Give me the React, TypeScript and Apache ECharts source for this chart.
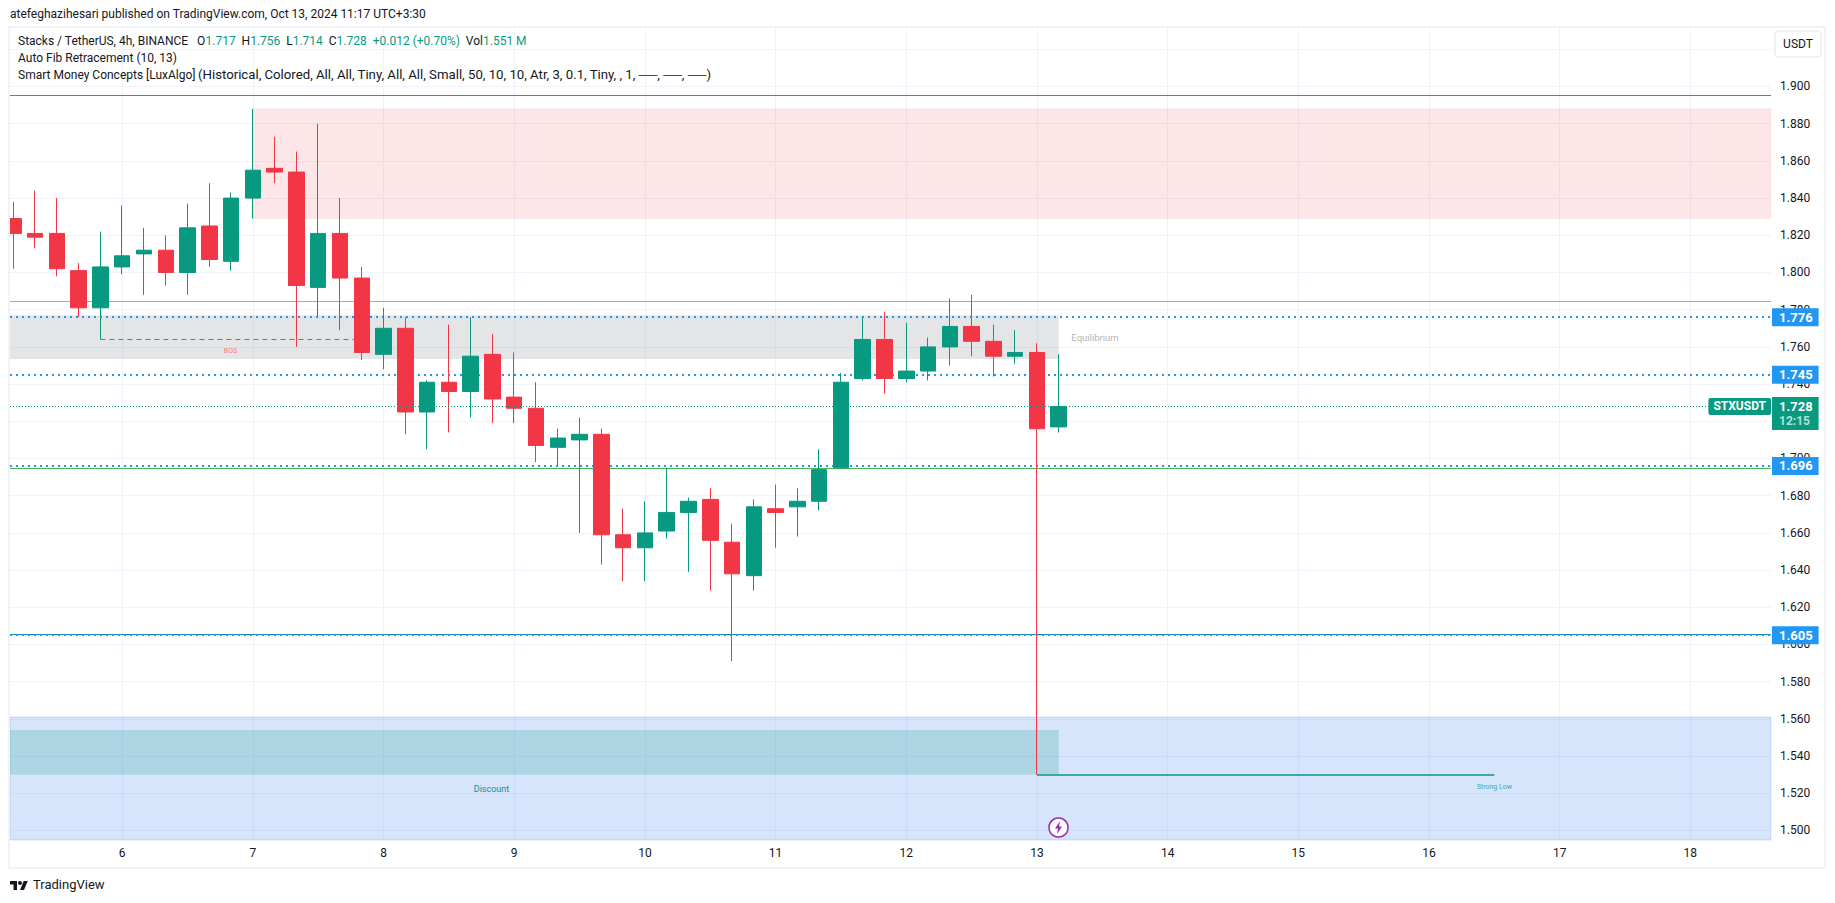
import React, { useEffect, useRef } from "react";
import * as echarts from "echarts";

const headerText = "atefeghazihesari published on TradingView.com, Oct 13, 2024 11:17 UTC+3:30";
const fibLegend = "Auto Fib Retracement (10, 13)";
const smcLegendName = "Smart Money Concepts [LuxAlgo]";
const smcLegendArgs = "(Historical, Colored, All, All, Tiny, All, All, Small, 50, 10, 10, Atr, 3, 0.1, Tiny, , 1, ──, ──, ──)";

const firstCandleDay = 5 + 1 / 6;
const candleStepDays = 1 / 6;
const opens = [1.829,1.821,1.821,1.801,1.781,1.803,1.810,1.812,1.800,1.825,1.806,1.840,1.856,1.854,1.792,1.821,1.797,1.756,1.770,1.725,1.741,1.736,1.756,1.733,1.727,1.706,1.710,1.713,1.659,1.652,1.661,1.671,1.678,1.655,1.637,1.673,1.674,1.677,1.695,1.743,1.764,1.743,1.747,1.760,1.771,1.763,1.755,1.757,1.717];
const closes = [1.821,1.819,1.802,1.781,1.803,1.809,1.812,1.800,1.824,1.807,1.840,1.855,1.854,1.793,1.821,1.797,1.757,1.770,1.725,1.741,1.736,1.755,1.732,1.727,1.707,1.711,1.713,1.659,1.652,1.660,1.671,1.677,1.656,1.638,1.674,1.671,1.677,1.694,1.741,1.764,1.743,1.747,1.760,1.771,1.763,1.755,1.757,1.716,1.728];
const lows = [1.802,1.813,1.798,1.776,1.764,1.799,1.788,1.793,1.788,1.803,1.801,1.829,1.848,1.760,1.776,1.769,1.753,1.748,1.713,1.705,1.714,1.722,1.719,1.719,1.698,1.696,1.660,1.643,1.634,1.634,1.657,1.639,1.629,1.591,1.629,1.652,1.658,1.672,1.695,1.742,1.735,1.741,1.742,1.750,1.755,1.744,1.751,1.530,1.714];
const highs = [1.838,1.844,1.840,1.805,1.822,1.836,1.824,1.820,1.837,1.848,1.843,1.888,1.873,1.865,1.880,1.840,1.803,1.781,1.776,1.742,1.772,1.776,1.767,1.757,1.741,1.716,1.722,1.716,1.673,1.677,1.695,1.679,1.684,1.665,1.678,1.686,1.684,1.705,1.746,1.776,1.779,1.773,1.765,1.786,1.788,1.772,1.769,1.762,1.756];

const dayTicks = [6, 7, 8, 9, 10, 11, 12, 13, 14, 15, 16, 17, 18];
const priceLabels = [1.5, 1.52, 1.54, 1.56, 1.58, 1.6, 1.62, 1.64, 1.66, 1.68, 1.7, 1.74, 1.76, 1.78, 1.8, 1.82, 1.84, 1.86, 1.88, 1.9];
const priceGridLines = [...priceLabels, 1.72, 1.92];

const xMin = 5.1414;
const xMax = 18.617;
const yMin = 1.49489;
const yMax = 1.93145;

const dottedLevels = [1.776, 1.745, 1.696, 1.605];
const solidLevels = [
  { value: 1.8954, color: "#e8493f" },
  { value: 1.7844, color: "#86c28c" },
  { value: 1.6948, color: "#4caf50" },
  { value: 1.6057, color: "#0e8ca8" },
];
const lastPrice = 1.728;
const countdown = "12:15";
const ticker = "STXUSDT";

const GREEN = "#089981";
const RED = "#F23645";
const BLUE = "#2196F3";
const FONT = "Roboto";

echarts.graphic.registerShape(
  "tvlogo",
  echarts.graphic.extendPath("M14 22H7V11H0V4h14zM28 22h-8l7.5-18h8zM24 8a4 4 0 1 1-8 0 4 4 0 0 1 8 0z", {}) as any
);

export default function App() {
  const ref = useRef<HTMLDivElement>(null);
  useEffect(() => {
    const chart = echarts.init(ref.current!, null, { renderer: "svg" });
    const candles = opens.map((o, i) => [firstCandleDay + i * candleStepDays, o, closes[i], lows[i], highs[i]]);
    const badge = (text: string) => ({
      show: true,
      position: "end",
      distance: 1,
      formatter: text,
      backgroundColor: BLUE,
      color: "#fff",
      fontFamily: FONT,
      fontWeight: "bold",
      fontSize: 13,
      padding: [3, 6, 2, 7],
    });
    chart.setOption({
      animation: false,
      backgroundColor: "#fff",
      title: {
        text: headerText,
        left: 10,
        top: 8,
        padding: 0,
        textStyle: { fontFamily: FONT, fontSize: 12, fontWeight: "normal", color: "#131722" },
      },
      grid: { left: 10, right: 64, top: 28, bottom: 63 },
      xAxis: {
        type: "value",
        min: xMin,
        max: xMax,
        axisLine: { show: false },
        axisTick: { show: false, customValues: dayTicks },
        axisLabel: {
          customValues: dayTicks,
          formatter: (v: number) => String(v),
          color: "#131722",
          fontFamily: FONT,
          fontSize: 12,
          margin: 7,
        },
        splitLine: { show: true, lineStyle: { color: "#f0f3fa", width: 1 } },
      },
      yAxis: {
        type: "value",
        position: "right",
        min: yMin,
        max: yMax,
        axisLine: { show: false },
        axisTick: { show: false, customValues: priceGridLines },
        axisLabel: {
          customValues: priceLabels,
          formatter: (v: number) => v.toFixed(3),
          color: "#131722",
          fontFamily: FONT,
          fontSize: 12,
          margin: 9,
        },
        splitLine: { show: true, lineStyle: { color: "#f0f3fa", width: 1 } },
      },
      series: [
        {
          name: "Levels",
          type: "line",
          data: [],
          z: 1,
          silent: true,
          markLine: {
            z: 1,
            silent: true,
            symbol: "none",
            animation: false,
            precision: 5,
            label: { show: false },
            data: [
              ...solidLevels.map((l) => ({
                yAxis: l.value,
                lineStyle: { color: l.color, width: 1, type: "solid" },
                label: { show: false },
              })),
              [
                { xAxis: 5 + 4 / 6 + 1 / 6, yAxis: 1.764, lineStyle: { color: "#c9505c", width: 1, type: [5, 4] }, label: { show: false } },
                { xAxis: 5 + 17 / 6, yAxis: 1.764 },
              ],
              [
                { xAxis: 13, yAxis: 1.53, lineStyle: { color: GREEN, width: 1.5, type: "solid" }, label: { show: false } },
                { xAxis: 16.5, yAxis: 1.53 },
              ],
              ...dottedLevels.map((v) => ({
                yAxis: v,
                lineStyle: { color: BLUE, width: 2, type: [2, 4] },
                label: badge(v.toFixed(3)),
              })),
            ],
          },
          markPoint: {
            z: 6,
            silent: true,
            symbol: "circle",
            symbolSize: 0,
            data: [
              { coord: [6.829, 1.758], label: { show: true, position: "inside", formatter: "BOS", color: "#f77c80", fontSize: 7, fontFamily: FONT } },
              { coord: [8.826, 1.5223], label: { show: true, position: "inside", formatter: "Discount", color: GREEN, fontSize: 9, fontFamily: FONT } },
              { coord: [13.444, 1.765], label: { show: true, position: "inside", formatter: "Equilibrium", color: "#b2b5be", fontSize: 9.5, fontFamily: FONT } },
              { coord: [16.5, 1.5236], label: { show: true, position: "inside", formatter: "Strong Low", color: "#3fae9c", fontSize: 7, fontFamily: FONT } },
            ],
          },
        },
        {
          name: "STXUSDT",
          type: "candlestick",
          barWidth: 16,
          z: 2,
          data: candles,
          itemStyle: { color: GREEN, color0: RED, borderColor: GREEN, borderColor0: RED, borderWidth: 1 },
          markArea: {
            z: 1,
            silent: true,
            precision: 5,
            data: [
              [
                { xAxis: 7, yAxis: 1.888, itemStyle: { color: "rgba(242,54,69,0.125)", borderColor: "rgba(242,54,69,0.06)", borderWidth: 1 } },
                { xAxis: xMax, yAxis: 1.829 },
              ],
              [
                { xAxis: xMin, yAxis: 1.777, itemStyle: { color: "rgba(120,123,134,0.2)" } },
                { xAxis: firstCandleDay + 48 * candleStepDays, yAxis: 1.7535 },
              ],
              [
                { xAxis: xMin, yAxis: 1.561, itemStyle: { color: "rgba(50,120,240,0.2)", borderColor: "rgba(50,120,240,0.2)", borderWidth: 1 } },
                { xAxis: xMax, yAxis: yMin },
              ],
              [
                { xAxis: xMin, yAxis: 1.554, itemStyle: { color: "rgba(8,153,129,0.2)" } },
                { xAxis: firstCandleDay + 48 * candleStepDays, yAxis: 1.53 },
              ],
            ],
          },
          markPoint: {
            silent: true,
            symbol: "circle",
            symbolSize: 0,
            data: [
              {
                coord: [xMax, lastPrice],
                label: {
                  show: true,
                  position: "left",
                  distance: 0,
                  formatter: ticker,
                  backgroundColor: GREEN,
                  color: "#fff",
                  fontWeight: "bold",
                  fontSize: 12,
                  fontFamily: FONT,
                  borderRadius: 2,
                  padding: [3, 5, 2, 5],
                },
              },
            ],
          },
          markLine: {
            silent: true,
            symbol: "none",
            animation: false,
            precision: 5,
            data: [
              {
                yAxis: lastPrice,
                lineStyle: { color: GREEN, width: 1, type: [1, 2] },
                label: {
                  show: true,
                  position: "end",
                  distance: 1,
                  offset: [0, 7],
                  formatter: `{p|${lastPrice.toFixed(3)}}\n{t|${countdown}}`,
                  backgroundColor: GREEN,
                  padding: [2, 6, 2, 7],
                  rich: {
                    p: { color: "#fff", fontWeight: "bold", fontSize: 13, fontFamily: FONT, lineHeight: 15 },
                    t: { color: "#b5e0d8", fontWeight: "bold", fontSize: 12, fontFamily: FONT, lineHeight: 14 },
                  },
                },
              },
            ],
          },
        },
      ],
      graphic: [
        { type: "rect", silent: true, z: 99, shape: { x: 0, y: 28, width: 8, height: 812 }, style: { fill: "#fff" } },
        { type: "rect", silent: true, z: 100, shape: { x: 9, y: 27, width: 1816, height: 841 }, style: { fill: "none", stroke: "#f0f3fa", lineWidth: 2 } },
        {
          type: "text",
          silent: true,
          z: 101,
          x: 18,
          y: 35,
          style: {
            text:
              "{k|Stacks / TetherUS, 4h, BINANCE   O}{v|1.717}{k|  H}{v|1.756}{k|  L}{v|1.714}{k|  C}{v|1.728}{v|  +0.012 (+0.70%)}{k|  Vol}{v|1.551 M}",
            rich: {
              k: { fill: "#131722", fontFamily: FONT, fontSize: 12 },
              v: { fill: GREEN, fontFamily: FONT, fontSize: 12 },
            },
          },
        },
        { type: "text", silent: true, z: 101, x: 18, y: 52, style: { text: fibLegend, fill: "#131722", fontFamily: FONT, fontSize: 12 } },
        { type: "text", silent: true, z: 101, x: 18, y: 69, style: { text: smcLegendName, fill: "#131722", fontFamily: FONT, fontSize: 12 } },
        { type: "text", silent: true, z: 101, x: 198, y: 69, scaleX: 1.1, style: { text: smcLegendArgs, fill: "#131722", fontFamily: FONT, fontSize: 12 } },
        { type: "rect", silent: true, z: 101, shape: { x: 1775, y: 31, width: 46, height: 26, r: 4 }, style: { fill: "#fff", stroke: "#e0e3eb", lineWidth: 1 } },
        { type: "text", silent: true, z: 102, x: 1798, y: 44, style: { text: "USDT", fill: "#131722", fontFamily: FONT, fontSize: 12, align: "center", verticalAlign: "middle" } },
        { type: "circle", silent: true, z: 101, shape: { cx: 1058.5, cy: 827.5, r: 9.5 }, style: { fill: "#fff", stroke: "#9c27b0", lineWidth: 1.5 } },
        { type: "polygon", silent: true, z: 102, shape: { points: [[1060, 821], [1055, 828.5], [1058, 828.5], [1057, 834], [1062, 826.5], [1059, 826.5]] }, style: { fill: "#9c27b0" } },
        { type: "tvlogo", silent: true, z: 101, x: 10, y: 879, scaleX: 0.5, scaleY: 0.5, style: { fill: "#131722" } },
        { type: "text", silent: true, z: 101, x: 33, y: 878, style: { text: "TradingView", fill: "#131722", fontFamily: FONT, fontSize: 13 } },
      ],
    });
    return () => chart.dispose();
  }, []);
  return <div ref={ref} style={{ position: "fixed", left: 0, top: 0, width: 1835, height: 903, background: "#fff" }} />;
}
